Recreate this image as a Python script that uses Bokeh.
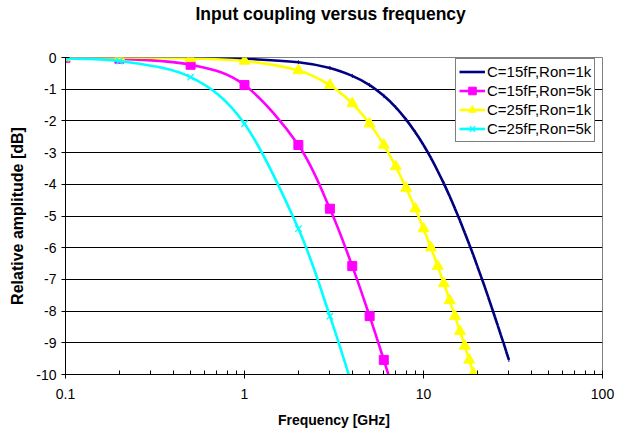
import numpy as np
from bokeh.plotting import figure
from bokeh.models import FixedTicker, Legend, LegendItem, Range1d, Title
from bokeh.embed import file_html
from bokeh.resources import INLINE

# ---- data ----
freq = [0.1, 0.2, 0.5, 1, 2, 3, 4, 5, 6, 7, 8, 9, 10, 11, 12, 13, 14, 15, 16,
        17, 18, 19, 20, 21, 22, 23, 24, 25, 26, 27, 28, 29, 30]

c15_r1k = [0.00, 0.00, -0.01, -0.04, -0.15, -0.33, -0.58, -0.87, -1.21, -1.57,
           -1.96, -2.36, -2.76, -3.17, -3.58, -3.98, -4.38, -4.77, -5.15, -5.53,
           -5.89, -6.24, -6.59, -6.92, -7.24, -7.56, -7.87, -8.17, -8.46, -8.74,
           -9.01, -9.28, -9.54]
c15_r5k = [-0.01, -0.04, -0.23, -0.87, -2.76, -4.77, -6.58, -8.16, -9.54, -10.75]
c25_r1k = [0.00, 0.00, -0.03, -0.11, -0.41, -0.87, -1.45, -2.09, -2.76, -3.44,
           -4.12, -4.77, -5.40, -6.00, -6.58, -7.13, -7.66, -8.16, -8.64, -9.10,
           -9.54, -9.96, -10.36]
c25_r5k = [-0.03, -0.11, -0.62, -2.09, -5.40, -8.16, -10.36]

series_names = ["C=15fF,Ron=1k", "C=15fF,Ron=5k", "C=25fF,Ron=1k", "C=25fF,Ron=5k"]
series_values = [c15_r1k, c15_r5k, c25_r1k, c25_r5k]

title_text = "Input coupling versus frequency"
x_ticks = [0.1, 1, 10, 100]
x_tick_labels = ["0.1", "1", "10", "100"]
y_ticks = [-10, -9, -8, -7, -6, -5, -4, -3, -2, -1, 0]
y_tick_labels = ["-10", "-9", "-8", "-7", "-6", "-5", "-4", "-3", "-2", "-1", "0"]

# ---- styles ----
colors = ["#000080", "#FF00FF", "#FFFF00", "#00FFFF"]
markers = ["dash", "square", "triangle", "x"]
marker_sizes = [4, 9, 11, 9]
marker_angles = [np.pi / 2, 0, 0, 0]
marker_widths = [1, 1, 1, 1.3]
FONT = "Liberation Sans"


def smooth_segments(xs, ys):
    """Excel-like smoothed line: Catmull-Rom converted to cubic Bezier in (log x, y)."""
    lx = np.log10(np.asarray(xs, dtype=float))
    y = np.asarray(ys, dtype=float)
    n = len(lx)
    px = np.concatenate([[lx[0]], lx, [lx[-1]]])
    py = np.concatenate([[y[0]], y, [y[-1]]])
    cx0 = px[1:n] + (px[2:n + 1] - px[0:n - 1]) / 6.0
    cy0 = py[1:n] + (py[2:n + 1] - py[0:n - 1]) / 6.0
    cx1 = px[2:n + 1] - (px[3:n + 2] - px[1:n]) / 6.0
    cy1 = py[2:n + 1] - (py[3:n + 2] - py[1:n]) / 6.0
    return dict(x0=10 ** lx[:-1], y0=y[:-1], x1=10 ** lx[1:], y1=y[1:],
                cx0=10 ** cx0, cy0=cy0, cx1=10 ** cx1, cy1=cy1)


p = figure(width=624, height=431, x_axis_type="log", title=None,
           x_range=Range1d(0.1, 100), y_range=Range1d(-10, 0),
           output_backend="svg", toolbar_location=None,
           min_border_left=65, min_border_right=22,
           min_border_top=57, min_border_bottom=57)

# spacer between the frame and the title, then the title itself
spacer = Title(text=" ", text_font_size="1px", standoff=31)
p.add_layout(spacer, "above")
main_title = Title(text=title_text, align="left", text_font=FONT,
                   text_font_size="17.5px", text_font_style="bold",
                   text_color="black", standoff=0, offset=130)
p.add_layout(main_title, "above")

p.background_fill_color = "white"
p.border_fill_color = "white"
p.outline_line_color = "#808080"
p.outline_line_width = 1

p.xgrid.grid_line_color = None
p.ygrid.grid_line_color = "#000000"
p.ygrid.grid_line_width = 1

# x axis
p.xaxis.ticker = FixedTicker(ticks=x_ticks,
                             minor_ticks=[m * d for d in (0.1, 1, 10) for m in range(2, 10)])
p.xaxis.major_label_overrides = dict(zip(x_ticks, x_tick_labels))
p.xaxis.axis_label = "Frequency [GHz]"
# y axis
p.yaxis.ticker = FixedTicker(ticks=y_ticks)
p.yaxis.major_label_overrides = dict(zip(y_ticks, y_tick_labels))
p.yaxis.axis_label = "Relative amplitude [dB]"

for ax in (p.xaxis[0], p.yaxis[0]):
    ax.axis_line_color = "black"
    ax.axis_line_width = 1
    ax.major_tick_line_color = "black"
    ax.minor_tick_line_color = "black"
    ax.major_tick_in = 4
    ax.major_tick_out = 4
    ax.major_label_text_font = FONT
    ax.major_label_text_font_size = "14px"
    ax.major_label_text_color = "black"
    ax.axis_label_text_font = FONT
    ax.axis_label_text_font_style = "bold"
    ax.axis_label_text_color = "black"
p.xaxis.minor_tick_in = 4
p.xaxis.minor_tick_out = 0
p.yaxis.minor_tick_line_color = None
p.xaxis.major_label_standoff = 10
p.yaxis.major_label_standoff = 5
p.xaxis.axis_label_text_font_size = "14px"
p.yaxis.axis_label_text_font_size = "16px"
p.xaxis.axis_label_standoff = 10
p.yaxis.axis_label_standoff = 7

items = []
for name, vals, col, mk, ms, ang, mw in zip(series_names, series_values, colors,
                                            markers, marker_sizes, marker_angles,
                                            marker_widths):
    xs = freq[:len(vals)]
    seg = smooth_segments(xs, vals)
    bz = p.bezier(x0="x0", y0="y0", x1="x1", y1="y1", cx0="cx0", cy0="cy0",
                  cx1="cx1", cy1="cy1", source=seg, line_color=col, line_width=2.6)
    sc = p.scatter(xs, vals, marker=mk, size=ms, angle=ang,
                   line_color=col, line_width=mw, fill_color=col)
    items.append(LegendItem(label=name, renderers=[bz, sc]))

legend = Legend(items=items, location=(390, 232))
legend.border_line_color = "black"
legend.border_line_width = 1
legend.background_fill_color = "white"
legend.background_fill_alpha = 1
legend.padding = 3
legend.spacing = 0
legend.margin = 0
legend.glyph_width = 26
legend.glyph_height = 19
legend.label_height = 19
legend.label_standoff = 2
legend.label_text_font = FONT
legend.label_text_font_size = "15px"
legend.label_text_color = "black"
p.add_layout(legend)

open("out.html", "w").write(file_html(p, INLINE))
